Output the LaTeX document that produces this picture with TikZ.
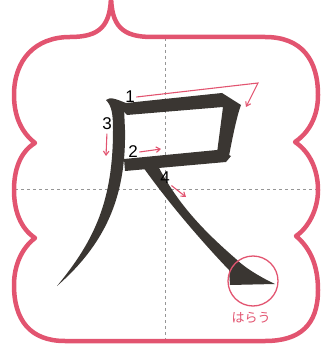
\documentclass[tikz,border=0pt]{standalone}
\usepackage{fontspec}
\setmainfont{Liberation Sans}
\newfontfamily\jpfont{Noto Sans CJK JP}
\usetikzlibrary{arrows.meta}
\definecolor{framepink}{RGB}{226,84,112}
\definecolor{ink}{RGB}{58,54,50}
\definecolor{guide}{RGB}{150,150,150}

\begin{document}
\begin{tikzpicture}[x=1pt, y=-1pt,
    guideline/.style={guide, line width=0.8pt, dash pattern=on 3pt off 3pt},
    order/.style={font=\fontsize{17}{17}\selectfont, inner sep=1.5pt},
    dir/.style={framepink, line width=1.1pt, -{Straight Barb[length=4pt,width=5.5pt]}}]
    \useasboundingbox (0,0) rectangle (322,355);
    % guide cross
    \draw[guideline] (165,38) -- (165,341);
    \draw[guideline] (15,189) -- (317,189);
    % frame
    \draw[framepink, line width=4.5pt, line join=round]
        (111,-6) .. controls (111,26) and (122,37) .. (152,37)
        -- (265,37)
        .. controls (302,37) and (318,60) .. (318,95)
        .. controls (318,122) and (304,136) .. (295,142)
        .. controls (310,152) and (318,170) .. (318,190)
        .. controls (318,210) and (308,228) .. (296,236)
        .. controls (310,248) and (318,265) .. (318,290)
        .. controls (318,325) and (300,341) .. (265,341)
        -- (65,341)
        .. controls (30,341) and (14,320) .. (14,285)
        .. controls (14,265) and (22,248) .. (35,238)
        .. controls (20,228) and (14,210) .. (14,190)
        .. controls (14,170) and (20,152) .. (35,143)
        .. controls (26,136) and (14,122) .. (14,95)
        .. controls (14,60) and (35,37) .. (70,37)
        .. controls (100,37) and (111,26) .. (111,-6);
    % strokes of the character
    \fill[ink] (106,100) .. controls (110,96) and (118,100) .. (126,103)
        -- (222,93) -- (241,105)
        .. controls (237,115) and (232,140) .. (229,156)
        -- (217,153) -- (223,107) -- (127,115) -- (120,108) -- cycle;
    \fill[ink] (124,159) -- (217,150) -- (231,156) -- (226,162) -- (125,171) -- cycle;
    \fill[ink] (106,100) .. controls (112,106) and (113,115) .. (113,130)
        .. controls (113,200) and (95,240) .. (57,286)
        .. controls (110,240) and (126,190) .. (125,130)
        -- (124,108) -- cycle;
    \fill[ink] (143,167) .. controls (170,205) and (205,245) .. (229,270)
        -- (230,285) -- (275,284)
        .. controls (262,278) and (245,268) .. (236,259)
        .. controls (205,232) and (178,205) .. (157,164) -- cycle;
    % stroke order
    \node[order] (n1) at (130,97) {1};
    \node[order] (n2) at (133,152) {2};
    \node[order] (n3) at (107,124) {3};
    \node[order] (n4) at (165,178) {4};
    \coordinate (t1) at (258,83);
    \coordinate (e1) at (246,107);
    \coordinate (e2) at (161,149);
    \coordinate (e3) at (106,156);
    \coordinate (e4) at (186,197);
    \draw[dir] (n1.east) -- (t1) -- (e1);
    \draw[dir] (n2.east) -- (e2);
    \draw[dir, shorten <=2pt] (n3.south) -- (e3);
    \draw[dir] (n4.south east) -- (e4);
    % harai mark
    \node[draw=framepink, line width=1.3pt, circle, minimum size=50pt, inner sep=0pt] (harai) at (253,281) {};
    \node[text=framepink, font=\jpfont\fontsize{13}{13}\selectfont, inner sep=0pt] (haraitext) at (251,318) {はらう};
\end{tikzpicture}
\end{document}
